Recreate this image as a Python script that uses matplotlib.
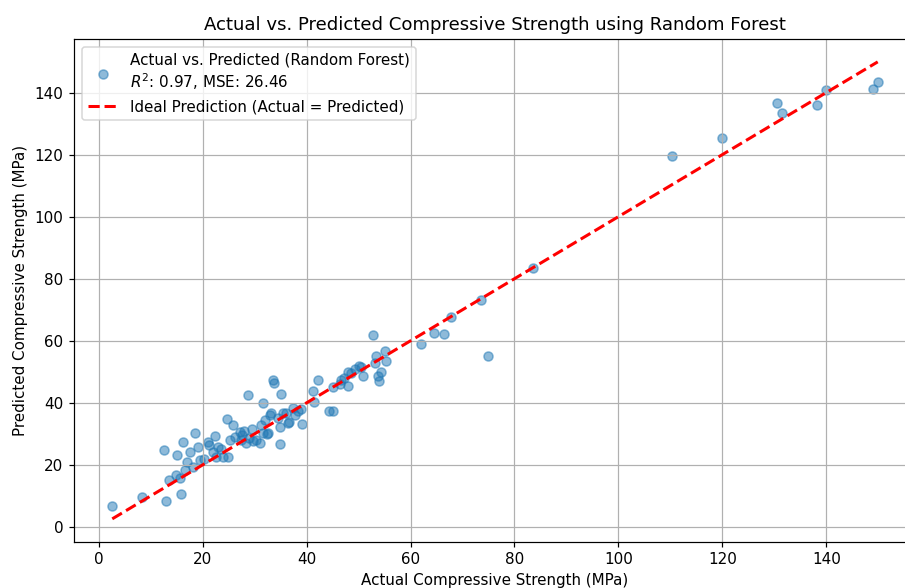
import matplotlib
matplotlib.use("Agg")
import matplotlib.pyplot as plt
import numpy as np

actual = [
    2.6, 8.3, 12.6, 13.0, 13.5, 14.8, 15.1, 15.6, 15.9, 16.2, 16.5, 16.9, 17.5, 18.1, 18.5,
    19.1, 19.4, 20.2, 21.0, 21.3, 22.0, 22.3, 22.6, 23.0, 23.5, 24.0, 24.6, 24.9, 25.2, 25.8,
    26.2, 27.1, 27.3, 27.6, 28.0, 28.4, 28.7, 29.0, 29.4, 29.7, 30.2, 31.0, 31.3, 31.6, 31.6,
    31.9, 32.3, 32.6, 33.0, 33.2, 33.5, 33.8, 34.5, 34.8, 34.9, 35.1, 35.5, 36.1, 36.4, 36.7,
    37.4, 37.8, 38.3, 39.0, 39.1, 41.2, 41.5, 42.2, 44.4, 45.0, 45.0, 46.4, 46.7, 47.2, 47.9,
    47.9, 48.5, 49.3, 50.0, 50.4, 50.8, 52.8, 53.1, 53.4, 53.7, 54.0, 54.4, 55.0, 55.2, 62.0,
    64.6, 66.5, 67.8, 73.5, 74.9, 83.5, 110.4, 120.0, 130.6, 131.5, 138.3, 139.9, 149.0, 149.9,
]
predicted = [
    6.9, 9.7, 24.8, 8.5, 15.1, 16.7, 23.2, 15.8, 10.6, 27.5, 18.3, 21.0, 24.2, 19.4, 30.4,
    25.8, 21.6, 22.0, 27.5, 26.3, 24.0, 29.3, 22.6, 25.8, 25.0, 22.6, 34.7, 22.6, 28.0, 32.8,
    29.0, 30.7, 28.0, 29.5, 31.0, 26.9, 42.5, 28.5, 31.5, 27.8, 28.0, 27.0, 33.0, 40.1, 30.2,
    34.4, 29.8, 30.2, 36.0, 36.6, 47.3, 46.4, 35.0, 32.3, 26.7, 43.0, 36.8, 36.6, 33.5, 33.9,
    38.2, 36.0, 37.5, 38.0, 33.1, 43.9, 40.3, 47.3, 37.4, 37.4, 45.2, 46.0, 47.3, 48.0, 45.4,
    50.0, 49.5, 51.0, 52.0, 51.5, 48.6, 61.9, 52.7, 55.0, 48.5, 47.0, 50.0, 56.7, 53.5, 59.1,
    62.5, 62.1, 67.5, 73.1, 55.1, 83.4, 119.7, 125.5, 136.6, 133.3, 136.0, 140.9, 141.0, 143.5,
]

W, H = 905, 588
DPI = 109
fig = plt.figure(figsize=(W / DPI, H / DPI), dpi=DPI)
ax = fig.add_axes([74 / W, (H - 541.7) / H, (916 - 74) / W, (541.7 - 39) / H])

ax.scatter(actual, predicted, alpha=0.5,
           label="Actual vs. Predicted (Random Forest)\n$R^2$: 0.97, MSE: 26.46")
lo, hi = min(actual), max(actual)
ax.plot([lo, hi], [lo, hi], "r--", lw=2, label="Ideal Prediction (Actual = Predicted)")

ax.set_title("Actual vs. Predicted Compressive Strength using Random Forest")
ax.set_xlabel("Actual Compressive Strength (MPa)")
ax.set_ylabel("Predicted Compressive Strength (MPa)")
ax.legend(loc="upper left")
ax.grid(True)

fig.savefig("out.png", dpi=DPI)
